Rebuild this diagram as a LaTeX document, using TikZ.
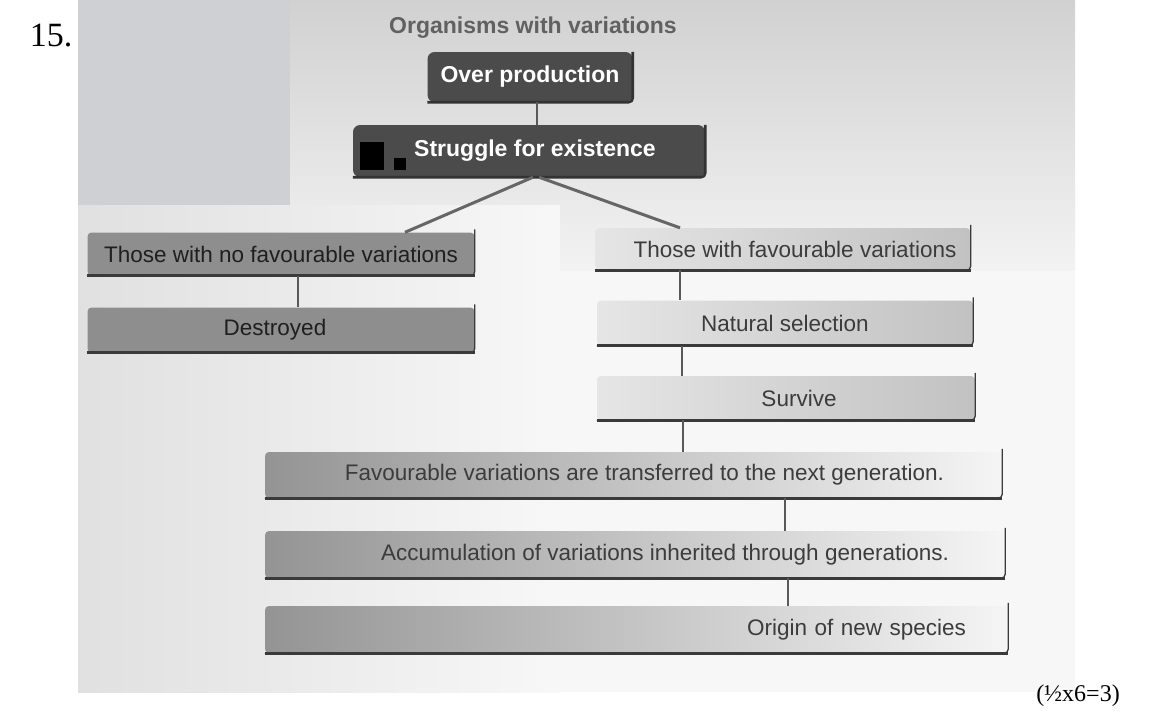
\documentclass[tikz,border=0pt]{standalone}
\usepackage{fontspec}
\setmainfont{Liberation Serif}
\newfontfamily\arial{Liberation Sans}
\definecolor{darkbox}{HTML}{4B4B4B}
\definecolor{midbox}{HTML}{8E8E8E}
\definecolor{edgecol}{HTML}{3A3A3A}
\definecolor{txtgray}{HTML}{3C3C3C}
\begin{document}
\begin{tikzpicture}[x=1pt,y=-1pt,
  darkb/.style={rounded corners=7pt, fill=darkbox, text=white, inner sep=0pt,
     font=\arial\bfseries\fontsize{23}{27}\selectfont},
  midb/.style={rounded corners=4pt, fill=midbox, text=black!88, inner sep=0pt,
     font=\arial\fontsize{22.5}{26}\selectfont},
  lightb/.style={rounded corners=4pt, left color=black!10, right color=black!24, text=txtgray, inner sep=0pt,
     font=\arial\fontsize{22.5}{26}\selectfont},
  fadeb/.style={rounded corners=4pt, left color=black!42, right color=black!4, text=txtgray, inner sep=0pt,
     font=\arial\fontsize{22.5}{26}\selectfont},
  conn/.style={draw=black!65, line width=2.2pt},
  diag/.style={draw=black!60, line width=3pt},
  bottomedge/.style={draw=edgecol, line width=2.6pt, rounded corners=4pt},
  sideedge/.style={draw=edgecol, line width=1.3pt, rounded corners=4pt}
]
\useasboundingbox (0,0) rectangle (1151,716);
% photo background
\fill[black!3] (78,0) rectangle (1075,692);
\shade[top color=black!18, bottom color=black!5] (290,0) rectangle (1075,270);
\shade[left color=black!12, right color=black!3] (78,205) rectangle (560,692);
\fill[fill={rgb,255:red,207;green,208;blue,211}] (78,0) rectangle (290,205);

% labels outside the photo
\node[font=\fontsize{34}{38}\selectfont] (num) at (51,36) {15.};
\node[font=\fontsize{24}{28}\selectfont] (marks) at (1078,696) {(½x6=3)};

% title
\node[font=\arial\bfseries\fontsize{23}{27}\selectfont, text=black!62] (title) at (533,28) {Organisms with variations};

% boxes
\node[darkb, minimum width=205pt, minimum height=50pt] (over) at (530,77) {Over production};
\node[darkb, minimum width=352pt, minimum height=52pt] (strug) at (529,151) {\hspace*{12pt}Struggle for existence};
\fill[black] (360,142) rectangle (384,170);
\fill[black] (394,158) rectangle (406,170);
\node[midb, minimum width=387pt, minimum height=43pt] (nofav) at (281,254) {Those with no favourable variations};
\node[midb, minimum width=387pt, minimum height=45pt] (destr) at (281,330) {\hspace*{-12pt}Destroyed};
\node[lightb, minimum width=375pt, minimum height=42pt] (fav) at (783,249) {\hspace*{24pt}Those with favourable variations};
\node[lightb, minimum width=376pt, minimum height=45pt] (nat) at (785,323) {Natural selection};
\node[lightb, minimum width=378pt, minimum height=44pt] (surv) at (786,398) {\hspace*{26pt}Survive};
\node[fadeb, minimum width=737pt, minimum height=46pt] (trans) at (633.5,475) {\hspace*{22pt}Favourable variations are transferred to the next generation.};
\node[fadeb, minimum width=740pt, minimum height=47pt] (accum) at (635,554.5) {\hspace*{60pt}Accumulation of variations inherited through generations.};
\node[fadeb, minimum width=743pt, minimum height=47pt, text width=743pt, align=right] (orig) at (636.5,629.5) {Origin of new species\hspace*{42pt}};

% box edges
\foreach \n in {over,strug}{
  \draw[bottomedge, draw=black!80] (\n.north east) -- (\n.south east) -- (\n.south west);
}
\foreach \n in {nofav,destr,fav,nat,surv,trans,accum,orig}{
  \draw[sideedge] ([yshift=3pt]\n.north east) -- (\n.south east) -- (\n.south west);
  \draw[bottomedge] (\n.south east) -- (\n.south west);
}

% connectors
\draw[conn] ([xshift=7pt]over.south) -- ([xshift=7pt]over.south |- strug.north);
\draw[diag] ([xshift=4pt]strug.south) -- ([xshift=124pt]nofav.north);
\draw[diag] ([xshift=10pt]strug.south) -- ([xshift=-103pt]fav.north);
\draw[conn] ([xshift=17pt]nofav.south) -- ([xshift=17pt]nofav.south |- destr.north);
\draw[conn] ([xshift=-103pt]fav.south) -- ([xshift=-103pt]fav.south |- nat.north);
\draw[conn] ([xshift=-103pt]nat.south) -- ([xshift=-103pt]nat.south |- surv.north);
\draw[conn] ([xshift=-103pt]surv.south) -- ([xshift=-103pt]surv.south |- trans.north);
\draw[conn] ([xshift=151.5pt]trans.south) -- ([xshift=151.5pt]trans.south |- accum.north);
\draw[conn] ([xshift=153pt]accum.south) -- ([xshift=153pt]accum.south |- orig.north);
\end{tikzpicture}
\end{document}
